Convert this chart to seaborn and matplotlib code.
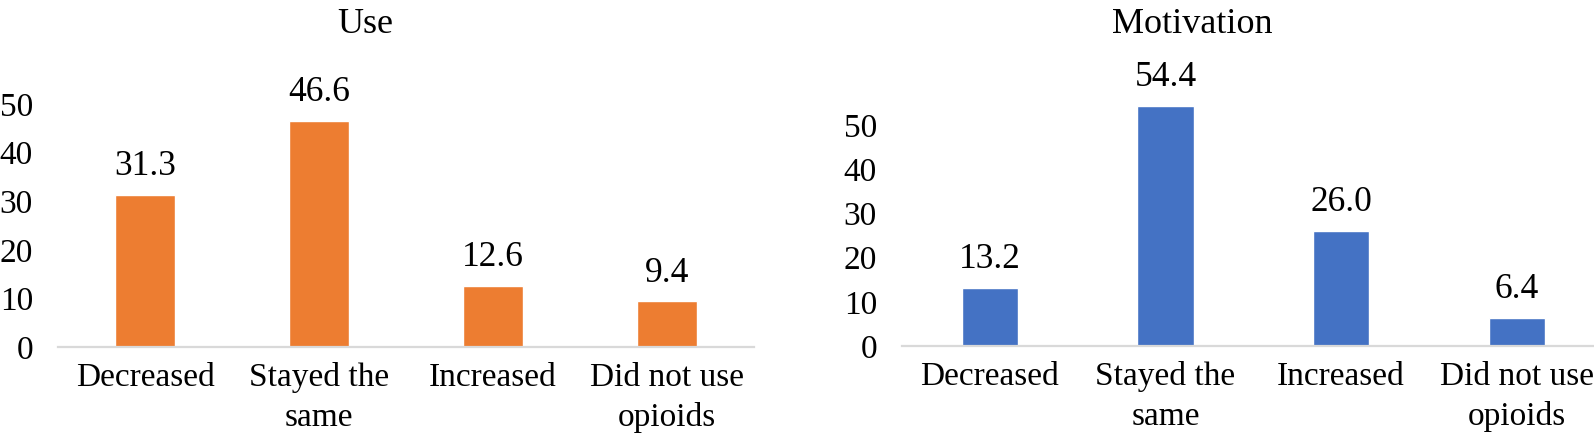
import matplotlib
matplotlib.use("Agg")
import matplotlib.pyplot as plt
import seaborn as sns
import pandas as pd

# Chart data
categories = ["Decreased", "Stayed the\nsame", "Increased", "Did not use\nopioids"]
use_values = [31.3, 46.6, 12.6, 9.4]
motivation_values = [13.2, 54.4, 26.0, 6.4]
y_ticks = [0, 10, 20, 30, 40, 50]

sns.set_style("white")
plt.rcParams['font.family'] = ['Liberation Serif', 'DejaVu Serif']
plt.rcParams['text.color'] = 'black'
plt.rcParams['xtick.color'] = 'black'
plt.rcParams['ytick.color'] = 'black'

fig = plt.figure(figsize=(15.94, 4.37), dpi=100)

# axes placed in pixel terms of the 1594x437 canvas
W, H = 1594, 437
ax1 = fig.add_axes([58 / W, (H - 347) / H, 696 / W, 291.6 / H])
ax2 = fig.add_axes([902 / W, (H - 346) / H, 692 / W, 265 / H])

panels = [
    (ax1, use_values, "#ED7D31", 0.35, (-0.5, 3.5)),
    (ax2, motivation_values, "#4472C4", 0.32, (-0.5, 3.44)),
]

for ax, vals, col, width, xlim in panels:
    df = pd.DataFrame({"cat": categories, "val": vals})
    sns.barplot(data=df, x="cat", y="val", color=col, width=width,
                saturation=1, ax=ax)
    ax.bar_label(ax.containers[0], fmt="%.1f", padding=8.5, fontsize=25.5,
                 color="black")
    ax.set_ylim(0, 60)
    ax.set_xlim(*xlim)
    ax.set_yticks(y_ticks)
    ax.set_xlabel("")
    ax.set_ylabel("")
    for s in ["top", "right", "left"]:
        ax.spines[s].set_visible(False)
    ax.spines["bottom"].set_color("#D9D9D9")
    ax.spines["bottom"].set_linewidth(1.6)
    ax.tick_params(axis="y", length=0, pad=18, labelsize=24)
    ax.tick_params(axis="x", length=0, pad=11, labelsize=24)
    for lbl in ax.get_xticklabels():
        lbl.set_linespacing(1.38)
    ax.patch.set_alpha(0)

fig.text(365 / W, 1 - 33 / H, "Use", ha="center", va="baseline", fontsize=26)
fig.text(1192 / W, 1 - 33.3 / H, "Motivation", ha="center", va="baseline", fontsize=26)

fig.savefig("out.png", dpi=100, facecolor="white")
